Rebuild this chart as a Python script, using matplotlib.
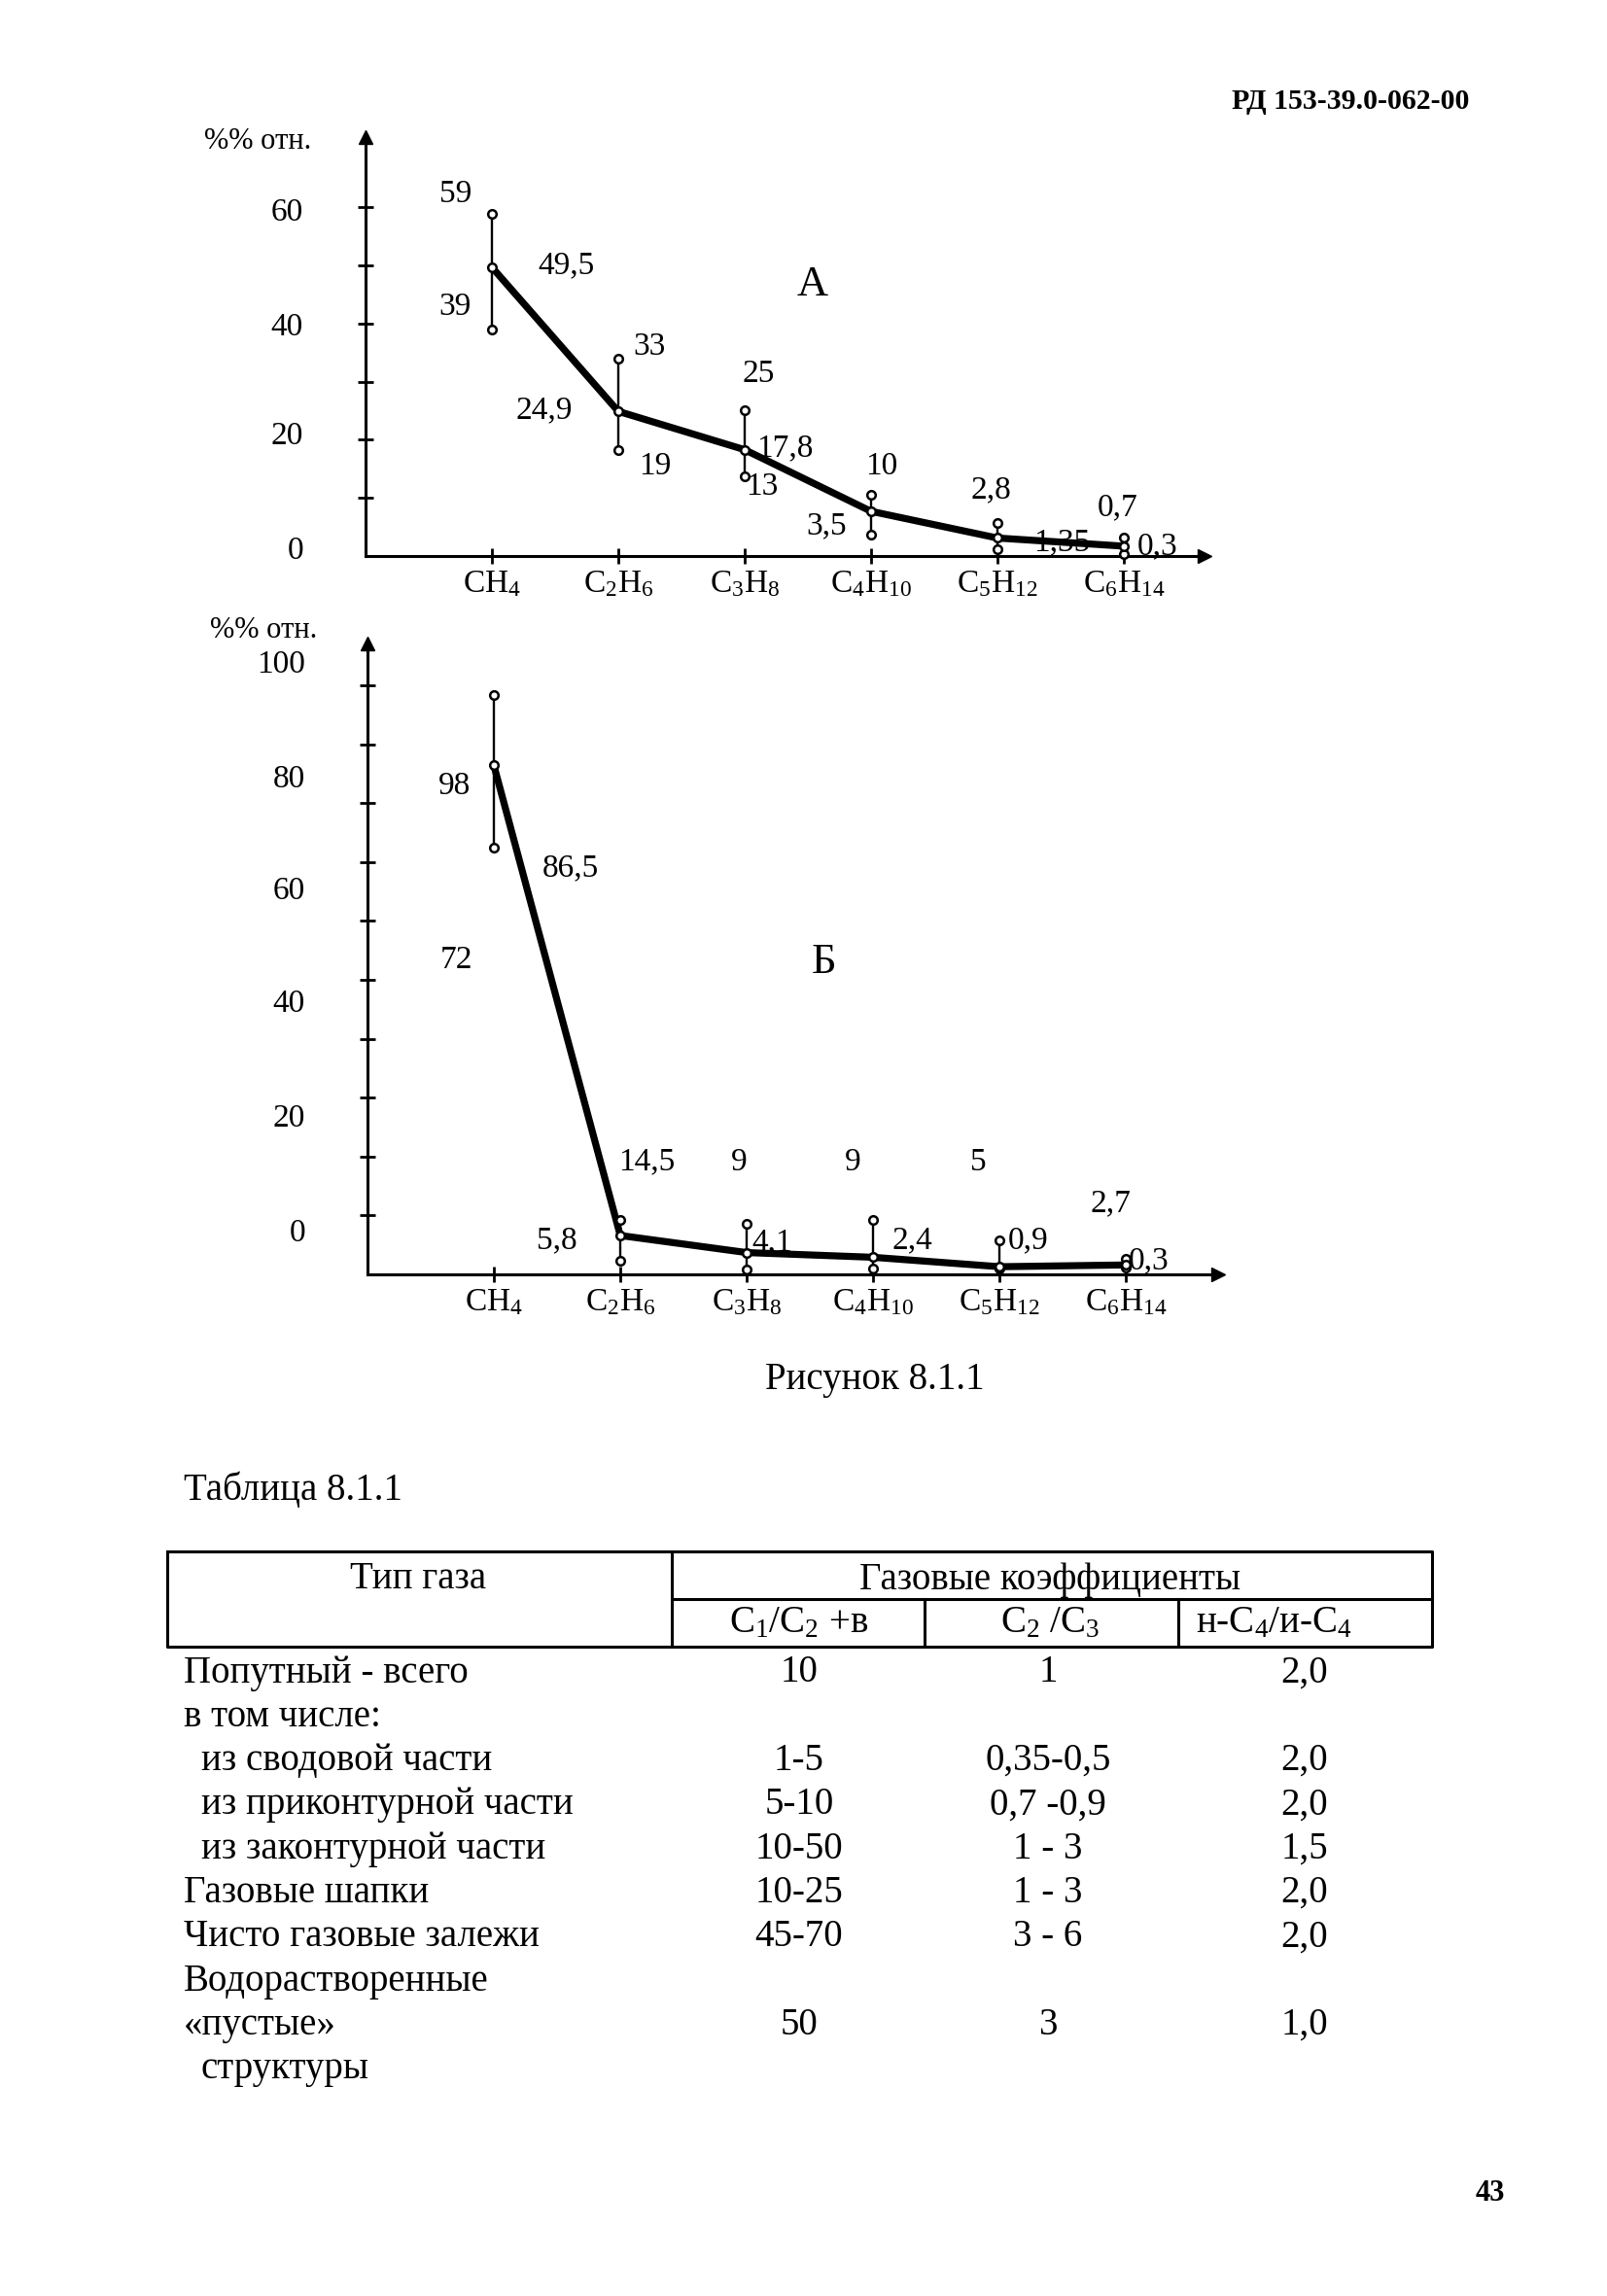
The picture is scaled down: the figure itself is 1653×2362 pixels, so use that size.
import matplotlib
matplotlib.use("Agg")
import matplotlib.pyplot as plt

plt.rcParams['font.family'] = ['Liberation Serif', 'DejaVu Serif']
plt.rcParams['mathtext.fontset'] = 'custom'
plt.rcParams['mathtext.rm'] = 'Liberation Serif'
plt.rcParams['mathtext.it'] = 'Liberation Serif:italic'
plt.rcParams['mathtext.bf'] = 'Liberation Serif:bold'
plt.rcParams['mathtext.default'] = 'regular'

W, H = 1653, 2362

#____Data
gases = ['CH$_4$', 'C$_2$H$_6$', 'C$_3$H$_8$', 'C$_4$H$_{10}$', 'C$_5$H$_{12}$', 'C$_6$H$_{14}$']

# chart A : values as drawn on the scan (mid line, lower and upper ends)
a_mid = [49.7, 24.9, 18.3, 7.7, 3.1, 1.7]
a_low = [38.9, 18.3, 13.7, 3.7, 1.1, 0.3]
a_high = [58.9, 34.0, 25.1, 10.6, 5.7, 3.1]
a_texts = ['59', '49,5', '39', '33', '24,9', '19', '25', '17,8', '13',
           '10', '3,5', '2,8', '1,35', '0,7', '0,3']

# chart Б
b_mid = [86.4, 6.6, 3.7, 2.9, 1.3, 1.6]
b_low = [72.4, 2.3, 0.8, 1.0, 1.0, 1.2]
b_high = [98.4, 9.3, 8.6, 9.3, 5.8, 2.6]
b_texts = ['98', '86,5', '72', '14,5', '9', '9', '5', '2,7',
           '5,8', '4,1', '2,4', '0,9', '0,3']

a_yticklabels = ['0', '20', '40', '60']
b_yticklabels = ['0', '20', '40', '60', '80', '100']

# table 8.1.1
row_names = ['Попутный - всего', 'в том числе:', 'из сводовой части',
             'из приконтурной части', 'из законтурной части', 'Газовые шапки',
             'Чисто газовые залежи', 'Водорастворенные', '«пустые»', 'структуры']
row_indent = [0, 0, 1, 1, 1, 0, 0, 0, 0, 1]
col_c1c2 = ['10', '', '1-5', '5-10', '10-50', '10-25', '45-70', '', '50', '']
col_c2c3 = ['1', '', '0,35-0,5', '0,7 -0,9', '1 - 3', '1 - 3', '3 - 6', '', '3', '']
col_c4 = ['2,0', '', '2,0', '2,0', '1,5', '2,0', '2,0', '', '1,0', '']
sub_headers = ['C$_1$/C$_2$ +в', 'C$_2$ /C$_3$', 'н-C$_4$/и-C$_4$']

#____Layout (label positions in data units of each chart)
a_text_pos = [(0.71, 62.3), (1.59, 50.0), (0.71, 42.9), (2.25, 36.0), (1.41, 25.1),
              (2.29, 15.4), (3.11, 31.4), (3.32, 18.6), (3.14, 12.0), (4.08, 15.4),
              (3.65, 5.1), (4.95, 11.4), (5.51, 2.3), (5.95, 8.3), (6.27, 1.7)]
b_text_pos = [(0.69, 82.9), (1.61, 68.9), (0.70, 53.3), (2.21, 19.1), (2.94, 19.1),
              (3.84, 19.1), (4.83, 19.1), (5.88, 12.1), (1.50, 5.8), (3.20, 5.4),
              (4.31, 5.8), (5.23, 5.8), (6.18, 2.3)]
a_ytick_pos = [0.9, 20.6, 39.4, 59.1]
b_ytick_pos = [7.0, 26.5, 45.9, 65.0, 84.0, 103.5]

FS = 24


def chart_axes(fig, x0, y_axis, x1, y_top, xmax, ymax):
    ax = fig.add_axes([x0 / W, 1 - y_axis / H, (x1 - x0) / W, (y_axis - y_top) / H])
    ax.set_xlim(0, xmax)
    ax.set_ylim(0, ymax)
    ax.set_facecolor('none')
    for s in ['top', 'right']:
        ax.spines[s].set_visible(False)
    for s in ['left', 'bottom']:
        ax.spines[s].set_linewidth(2.2)
    ax.plot(0, 1, '^k', ms=10, transform=ax.transAxes, clip_on=False)
    ax.plot(1, 0, '>k', ms=10, transform=ax.transAxes, clip_on=False)
    ax.tick_params(direction='inout', length=11, width=2, labelleft=False, labelbottom=False)
    return ax


def draw_series(ax, mid, low, high):
    x = list(range(1, len(mid) + 1))
    ax.vlines(x, low, high, color='k', lw=1.7, zorder=2)
    ax.plot(x, mid, '-', color='k', lw=5.2, solid_capstyle='round', zorder=3)
    for vals in (low, high, mid):
        ax.plot(x, vals, 'o', ms=6.2, mfc='white', mec='k', mew=1.8, zorder=4, clip_on=False)
    for i, g in enumerate(gases):
        ax.annotate(g, xy=(i + 1, 0), xytext=(0, -21), textcoords='offset points',
                    ha='center', va='center', fontsize=FS, annotation_clip=False)


def draw_yticklabels(ax, labels, pos):
    for lab, p in zip(labels, pos):
        ax.annotate(lab, xy=(0, p), xycoords=('axes fraction', 'data'), xytext=(-46, 0),
                    textcoords='offset points', ha='right', va='center', fontsize=FS,
                    annotation_clip=False)


fig = plt.figure(figsize=(W / 100, H / 100), dpi=100)
fig.patch.set_facecolor('white')

page = fig.add_axes([0, 0, 1, 1])
page.set_xlim(0, W)
page.set_ylim(H, 0)
page.axis('off')

#____Chart A
axA = chart_axes(fig, 376, 572, 1239, 141, 6.64, 72.1)
axA.set_xticks(range(1, 7))
axA.set_yticks(range(10, 61, 10))
draw_series(axA, a_mid, a_low, a_high)
draw_yticklabels(axA, a_yticklabels, a_ytick_pos)
for t, (x, y) in zip(a_texts, a_text_pos):
    axA.text(x, y, t, ha='center', va='center', fontsize=FS, clip_on=False)
axA.text(3.54, 46.6, 'А', ha='center', va='center', fontsize=32)
axA.annotate('%% отн.', xy=(0, 1), xycoords='axes fraction', xytext=(-80, -3),
             textcoords='offset points', ha='center', va='center', fontsize=22,
             annotation_clip=False)

#____Chart Б
axB = chart_axes(fig, 378, 1311, 1253, 662, 6.73, 107.1)
axB.set_xticks(range(1, 7))
axB.set_yticks(range(10, 101, 10))
draw_series(axB, b_mid, b_low, b_high)
draw_yticklabels(axB, b_yticklabels, b_ytick_pos)
for t, (x, y) in zip(b_texts, b_text_pos):
    axB.text(x, y, t, ha='center', va='center', fontsize=FS, clip_on=False)
axB.text(3.61, 52.9, 'Б', ha='center', va='center', fontsize=32)
axB.annotate('%% отн.', xy=(0, 1), xycoords='axes fraction', xytext=(-77, 10),
             textcoords='offset points', ha='center', va='center', fontsize=22,
             annotation_clip=False)

#____Page texts
page.text(1511, 105, 'РД 153-39.0-062-00', ha='right', va='center', fontsize=21.5,
          fontweight='bold')
page.text(900, 1420, 'Рисунок 8.1.1', ha='center', va='center', fontsize=28)
page.text(189, 1533, 'Таблица 8.1.1', ha='left', va='center', fontsize=28)
page.text(1533, 2256, '43', ha='center', va='center', fontsize=22, fontweight='bold')

#____Table
lw_t = 2.2
page.plot([172, 1473, 1473, 172, 172], [1596, 1596, 1694, 1694, 1596], color='k', lw=lw_t)
page.plot([691, 1473], [1645, 1645], color='k', lw=lw_t)
page.plot([691, 691], [1596, 1694], color='k', lw=lw_t)
page.plot([951, 951], [1645, 1694], color='k', lw=lw_t)
page.plot([1212, 1212], [1645, 1694], color='k', lw=lw_t)

TF = 28
page.text(430, 1625, 'Тип газа', ha='center', va='center', fontsize=TF)
page.text(1080, 1625, 'Газовые коэффициенты', ha='center', va='center', fontsize=TF)
for s, x in zip(sub_headers, [822, 1080, 1310]):
    page.text(x, 1670, s, ha='center', va='center', fontsize=TF)

col_x = [822, 1078, 1342]
for i, name in enumerate(row_names):
    y = 1721 + i * 45.3
    page.text(189 + 18 * row_indent[i], y, name, ha='left', va='center', fontsize=TF)
    for cx, col in zip(col_x, (col_c1c2, col_c2c3, col_c4)):
        if col[i]:
            page.text(cx, y, col[i], ha='center', va='center', fontsize=TF)

fig.savefig('out.png', dpi=100, facecolor='white')
